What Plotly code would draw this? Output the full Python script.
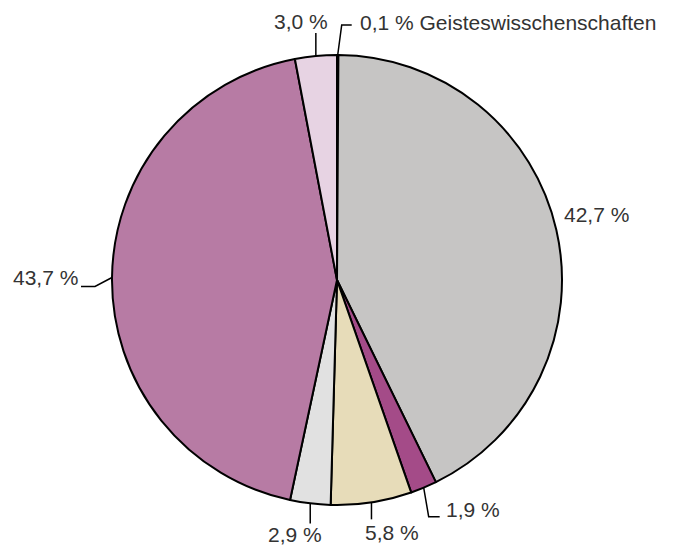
import math
import plotly.graph_objects as go

# ---- data ----
labels = ["Geisteswisschenschaften", "A", "B", "C", "D", "E", "F"]
values = [0.1, 42.7, 1.9, 5.8, 2.9, 43.7, 3.0]
label_texts = ["0,1 % Geisteswisschenschaften", "42,7 %", "1,9 %", "5,8 %", "2,9 %", "43,7 %", "3,0 %"]
colors = ["#E8DDBD", "#C6C5C4", "#A44B88", "#E7DCB9", "#E1E1E1", "#B77BA4", "#E7D3E3"]

OFF = 8  # default page body margin
W, H = 678 - OFF, 545 - OFF
CX, CY, R = 337 - OFF, 280 - OFF, 225

def X(px):
    return px / W

def Y(py):
    return 1 - py / H

fig = go.Figure()
fig.add_trace(go.Pie(
    labels=labels, values=values, sort=False, direction="clockwise", rotation=0,
    marker=dict(colors=colors, line=dict(color="black", width=2)),
    textinfo="none", hoverinfo="skip", showlegend=False,
    domain=dict(x=[X(CX - R), X(CX + R)], y=[Y(CY + R), Y(CY - R)]),
))

# leader-line styles: list of (dx,dy) offsets from slice anchor; text offset, anchor side
styles = [
    dict(pts=[(4, -30), (14, -30)], t=(20, -33), xa="left"),
    dict(pts=[], t=(6, -15), xa="left"),
    dict(pts=[(5, 29), (16, 29)], t=(20, 22), xa="left"),
    dict(pts=[(0, 17)], t=(-8, 30), xa="left"),
    dict(pts=[(0, 20)], t=(14, 31), xa="right"),
    dict(pts=[(-17, 9), (-31, 9)], t=(-32, 0), xa="right"),
    dict(pts=[(0, -23)], t=(14, -34), xa="right"),
]

total = sum(values)
cum = 0.0
shapes = []
annotations = []
for v, txt, st in zip(values, label_texts, styles):
    th = 2 * math.pi * (cum + v / 2) / total
    cum += v
    ax = CX + R * math.sin(th)
    ay = CY - R * math.cos(th)
    if st["pts"]:
        pts = [(ax, ay)] + [(ax + dx, ay + dy) for dx, dy in st["pts"]]
        path = "M " + " L ".join(f"{X(px):.5f},{Y(py):.5f}" for px, py in pts)
        shapes.append(dict(type="path", path=path, xref="paper", yref="paper",
                           line=dict(color="black", width=1.5)))
    tx, ty = ax + st["t"][0], ay + st["t"][1]
    annotations.append(dict(x=X(tx), y=Y(ty), xref="paper", yref="paper", text=txt,
                            showarrow=False, xanchor=st["xa"], yanchor="middle",
                            font=dict(family="Arial, Liberation Sans, sans-serif", size=21, color="#333333")))

fig.update_layout(
    width=W, height=H, margin=dict(l=0, r=0, t=0, b=0),
    paper_bgcolor="white", plot_bgcolor="white",
    shapes=shapes, annotations=annotations,
)
fig.write_html("out.html")
